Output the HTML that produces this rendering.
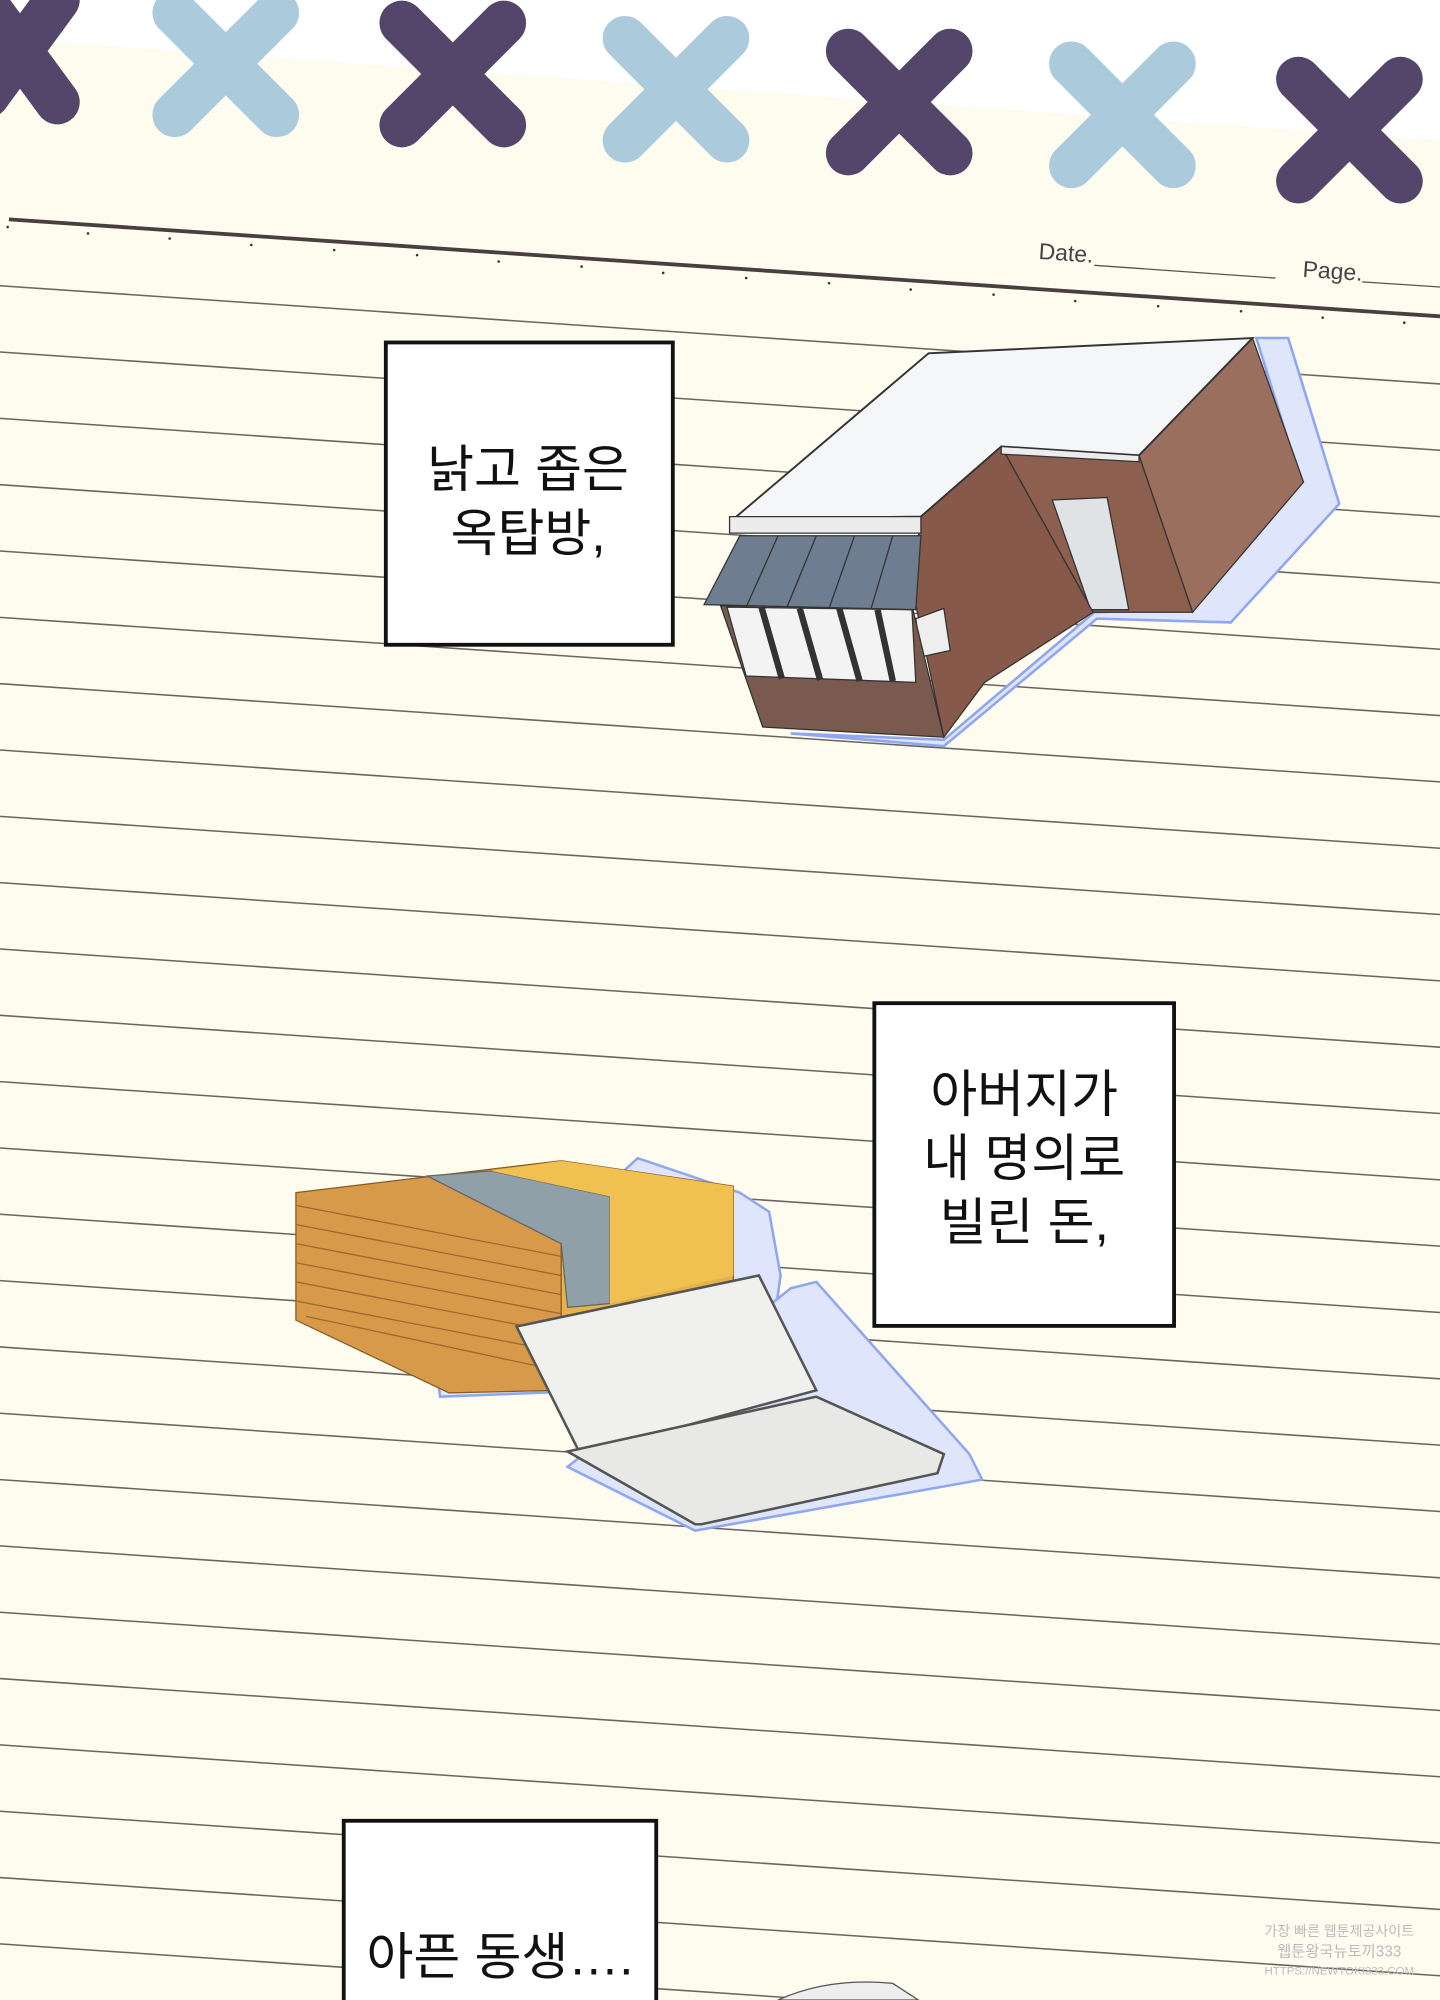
<!DOCTYPE html>
<html><head><meta charset="utf-8"><style>
html,body{margin:0;padding:0;background:#fefbef;}
svg{display:block}
text{font-family:"Liberation Sans","Noto Sans CJK KR",sans-serif;}
</style></head><body>
<svg width="1440" height="2000" viewBox="0 0 1129 1568" preserveAspectRatio="none" xmlns="http://www.w3.org/2000/svg">
<rect width="1129" height="1568" fill="#fefbef"/>
<polygon points="0,0 1129,0 1129,110 0,30" fill="#ffffff"/>
<g stroke-linecap="round" stroke-width="35">
<g stroke="#54466a"><line x1="-10" y1="5" x2="45" y2="80"/><line x1="45" y1="0" x2="-10" y2="75"/></g>
<g stroke="#abcadb"><line x1="137" y1="10" x2="217" y2="90"/><line x1="217" y1="10" x2="137" y2="90"/></g>
<g stroke="#54466a"><line x1="315" y1="18" x2="395" y2="98"/><line x1="395" y1="18" x2="315" y2="98"/></g>
<g stroke="#abcadb"><line x1="490" y1="30" x2="570" y2="110"/><line x1="570" y1="30" x2="490" y2="110"/></g>
<g stroke="#54466a"><line x1="665" y1="40" x2="745" y2="120"/><line x1="745" y1="40" x2="665" y2="120"/></g>
<g stroke="#abcadb"><line x1="840" y1="50" x2="920" y2="130"/><line x1="920" y1="50" x2="840" y2="130"/></g>
<g stroke="#54466a"><line x1="1018" y1="62" x2="1098" y2="142"/><line x1="1098" y1="62" x2="1018" y2="142"/></g>
</g>
<line x1="7" y1="172" x2="1129" y2="248" stroke="#4a3f3f" stroke-width="3"/>
<g fill="#333">
<circle cx="6" cy="178" r="1"/><circle cx="69" cy="183" r="1"/><circle cx="133" cy="187" r="1"/><circle cx="197" cy="192" r="1"/><circle cx="262" cy="196" r="1"/><circle cx="327" cy="200" r="1"/><circle cx="391" cy="205" r="1"/><circle cx="456" cy="209" r="1"/><circle cx="520" cy="214" r="1"/><circle cx="585" cy="218" r="1"/><circle cx="650" cy="222" r="1"/><circle cx="714" cy="227" r="1"/><circle cx="779" cy="231" r="1"/><circle cx="843" cy="236" r="1"/><circle cx="908" cy="240" r="1"/><circle cx="973" cy="244" r="1"/><circle cx="1037" cy="249" r="1"/><circle cx="1101" cy="253" r="1"/>
</g>
<text x="814" y="203" font-size="18" fill="#444" transform="rotate(3.9 814 203)">Date.</text>
<line x1="858" y1="208" x2="1000" y2="218" stroke="#555" stroke-width="1"/>
<text x="1021" y="217" font-size="18" fill="#444" transform="rotate(3.9 1021 217)">Page.</text>
<line x1="1068" y1="221" x2="1129" y2="225" stroke="#555" stroke-width="1"/>
<g stroke="#6b6460" stroke-width="1.2">
<line x1="0" y1="224" x2="1129" y2="301"/>
<line x1="0" y1="276" x2="1129" y2="353"/>
<line x1="0" y1="328" x2="1129" y2="405"/>
<line x1="0" y1="380" x2="1129" y2="457"/>
<line x1="0" y1="432" x2="1129" y2="509"/>
<line x1="0" y1="484" x2="1129" y2="561"/>
<line x1="0" y1="536" x2="1129" y2="613"/>
<line x1="0" y1="588" x2="1129" y2="665"/>
<line x1="0" y1="640" x2="1129" y2="717"/>
<line x1="0" y1="692" x2="1129" y2="769"/>
<line x1="0" y1="744" x2="1129" y2="821"/>
<line x1="0" y1="796" x2="1129" y2="873"/>
<line x1="0" y1="848" x2="1129" y2="925"/>
<line x1="0" y1="900" x2="1129" y2="977"/>
<line x1="0" y1="952" x2="1129" y2="1029"/>
<line x1="0" y1="1004" x2="1129" y2="1081"/>
<line x1="0" y1="1056" x2="1129" y2="1133"/>
<line x1="0" y1="1108" x2="1129" y2="1185"/>
<line x1="0" y1="1160" x2="1129" y2="1237"/>
<line x1="0" y1="1212" x2="1129" y2="1289"/>
<line x1="0" y1="1264" x2="1129" y2="1341"/>
<line x1="0" y1="1316" x2="1129" y2="1393"/>
<line x1="0" y1="1368" x2="1129" y2="1445"/>
<line x1="0" y1="1420" x2="1129" y2="1497"/>
<line x1="0" y1="1472" x2="1129" y2="1549"/>
<line x1="0" y1="1524" x2="1129" y2="1601"/>
</g>
<!-- building -->
<polygon points="620,575 740,585 860,485 965,488 1050,395 1010,265 985,265 1020,378 935,478 858,480 740,580" fill="#dfe6fb" stroke="#8fa6f0" stroke-width="2"/>
<polygon points="893,357 982,265 1022,378 935,480" fill="#9a6f5e" stroke="#333"/>
<polygon points="785,350 893,357 935,480 857,480" fill="#8c5f4e" stroke="#333"/>
<polygon points="825,392 868,390 885,478 855,478" fill="#dfe3e6" stroke="#333"/>
<polygon points="722,405 785,350 857,480 772,535 740,578 715,460" fill="#86594a" stroke="#333"/>
<polygon points="575,407 728,277 982,265 893,357 785,350 722,405" fill="#f5f6f7" stroke="#333" stroke-width="1.5"/>
<polygon points="572,405 722,405 722,418 572,418" fill="#ececec" stroke="#333"/>
<polygon points="785,350 893,357 893,362 785,356" fill="#ececec" stroke="#333"/>
<polygon points="718,485 740,477 745,510 722,515" fill="#eee" stroke="#333"/>
<polygon points="565,475 715,475 740,578 598,570" fill="#7a5a4e" stroke="#333"/>
<polygon points="570,476 715,478 718,535 585,530" fill="#f4f3f3" stroke="#333"/>
<g stroke="#333" stroke-width="5"><line x1="597" y1="476" x2="613" y2="532"/><line x1="627" y1="477" x2="643" y2="533"/><line x1="658" y1="477" x2="674" y2="534"/><line x1="688" y1="478" x2="700" y2="534"/></g>
<polygon points="580,420 722,420 718,478 552,474" fill="#6e7d8f" stroke="#333"/>
<g stroke="#333"><line x1="610" y1="420" x2="585" y2="476"/><line x1="640" y1="420" x2="617" y2="476"/><line x1="670" y1="420" x2="650" y2="477"/><line x1="700" y1="420" x2="683" y2="477"/></g>
<!-- money -->
<polygon points="345,1095 600,1085 612,1000 603,950 580,935 500,908 340,1055" fill="#dfe6fb" stroke="#8fa6f0" stroke-width="2"/>
<polygon points="545,1200 770,1160 760,1140 640,1005 620,1010 445,1150" fill="#dfe6fb" stroke="#8fa6f0" stroke-width="2"/>
<polygon points="232,935 340,922 440,975 440,1090 352,1092 232,1035" fill="#d69a4a" stroke="#8a5a20"/>
<g stroke="#9b6a2e" stroke-width="1">
<line x1="232" y1="945" x2="440" y2="985"/><line x1="232" y1="960" x2="440" y2="1000"/><line x1="232" y1="975" x2="440" y2="1015"/><line x1="232" y1="990" x2="440" y2="1030"/><line x1="232" y1="1005" x2="440" y2="1045"/><line x1="232" y1="1020" x2="440" y2="1060"/><line x1="240" y1="1032" x2="440" y2="1075"/>
</g>
<polygon points="340,922 440,910 575,930 575,1010 440,1090 440,975" fill="#e5b34c" stroke="#8a5a20"/>
<polygon points="335,922 385,918 478,938 478,1022 445,1025 440,975" fill="#8fa0a8" stroke="#666"/>
<polygon points="385,918 440,910 575,930 575,1000 478,1022 478,938" fill="#f0c050"/>
<polygon points="405,1040 595,1000 640,1090 455,1140" fill="#f0f0ee" stroke="#555" stroke-width="2"/>
<polygon points="445,1138 640,1095 740,1140 735,1155 550,1195 545,1195" fill="#e8e8e6" stroke="#555" stroke-width="2"/>
<!-- text boxes -->
<rect x="302.5" y="268.5" width="225" height="237" fill="#fff" stroke="#111" stroke-width="3"/>
<text x="414" y="382" font-size="40" text-anchor="middle" fill="#111">낡고 좁은</text>
<text x="414" y="432" font-size="40" text-anchor="middle" fill="#111">옥탑방,</text>
<rect x="685.5" y="786.5" width="235" height="253" fill="#fff" stroke="#111" stroke-width="3"/>
<text x="803" y="872" font-size="40" text-anchor="middle" fill="#111">아버지가</text>
<text x="803" y="922" font-size="40" text-anchor="middle" fill="#111">내 명의로</text>
<text x="803" y="972" font-size="40" text-anchor="middle" fill="#111">빌린 돈,</text>
<rect x="269.5" y="1427.5" width="245" height="160" fill="#fff" stroke="#111" stroke-width="3"/>
<text x="392" y="1548" font-size="40" text-anchor="middle" fill="#111">아픈 동생….</text>
<path d="M610,1568 Q650,1550 700,1555 L720,1568Z" fill="#eee" stroke="#555"/>
<text x="1050" y="1518" font-size="11" text-anchor="middle" fill="#bbb">가장 빠른 웹툰제공사이트</text>
<text x="1050" y="1534" font-size="12" text-anchor="middle" fill="#bbb">웹툰왕국뉴토끼333</text>
<text x="1050" y="1548" font-size="9" text-anchor="middle" fill="#bbb">HTTPS://NEWTOKI333.COM</text>
</svg>
</body></html>
